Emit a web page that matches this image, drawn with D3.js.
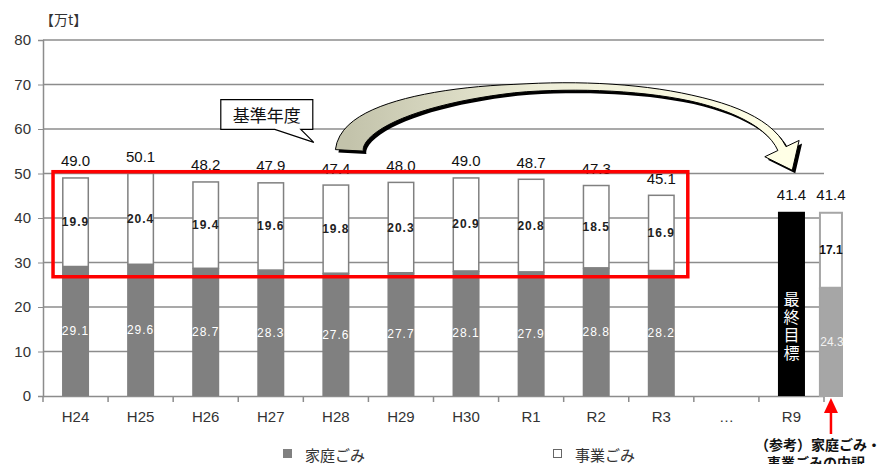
<!DOCTYPE html>
<html>
<head>
<meta charset="utf-8">
<script src="https://cdn.jsdelivr.net/npm/d3@7"></script>
<style>
  body { margin: 0; background: #fff; }
  svg { display: block; font-family: "Liberation Sans", Arial, sans-serif; }
  .jp { font-family: "Noto Sans CJK JP", sans-serif; }
</style>
</head>
<body>
<svg id="chart" width="884" height="464"></svg>
<script>
// years on the x axis
const categories = ["H24", "H25", "H26", "H27", "H28", "H29", "H30", "R1", "R2", "R3", "…", "R9"];
const years = categories.slice(0, 10);
// household waste / business waste (万t)
const household = [29.1, 29.6, 28.7, 28.3, 27.6, 27.7, 28.1, 27.9, 28.8, 28.2];
const business = [19.9, 20.4, 19.4, 19.6, 19.8, 20.3, 20.9, 20.8, 18.5, 16.9];
const totals = [49.0, 50.1, 48.2, 47.9, 47.4, 48.0, 49.0, 48.7, 47.3, 45.1];
// final target and its breakdown
const target = 41.4;
const refHousehold = 24.3;
const refBusiness = 17.1;
const yTicks = [0, 10, 20, 30, 40, 50, 60, 70, 80];

const svg = d3.select("#chart");
const plotLeft = 43, plotRight = 824, plotTop = 40, plotBottom = 396;

const x = d3.scaleBand().domain(categories).range([plotLeft, plotRight])
  .paddingInner(0.585).paddingOuter(0.2925);
const y = d3.scaleLinear().domain([0, 80]).range([plotBottom, plotTop]);
const bw = x.bandwidth();
const gap = x.step() - bw;

// gridlines
svg.append("g").selectAll("line").data(yTicks.slice(1)).join("line")
  .attr("x1", plotLeft).attr("x2", plotRight)
  .attr("y1", d => y(d)).attr("y2", d => y(d))
  .attr("stroke", "#8c8c8c").attr("stroke-width", 1.5);

// y axis
const yAxis = svg.append("g").attr("transform", `translate(${plotLeft},0)`)
  .call(d3.axisLeft(y).tickValues(yTicks).tickSize(5).tickPadding(7));
yAxis.select(".domain").attr("stroke", "#8c8c8c").attr("stroke-width", 1.5);
yAxis.selectAll(".tick line").attr("stroke", "#8c8c8c");
yAxis.selectAll("text").attr("font-size", 15).attr("fill", "#333")
  .attr("font-family", "Liberation Sans, Arial, sans-serif");

// x axis
const xAxis = svg.append("g").attr("transform", `translate(0,${plotBottom})`)
  .call(d3.axisBottom(x).tickSize(0).tickPadding(15));
xAxis.select(".domain").attr("stroke", "#8c8c8c").attr("stroke-width", 1.5);
xAxis.selectAll("text").attr("font-size", 15).attr("fill", "#333")
  .attr("font-family", "Liberation Sans, Arial, sans-serif");
const bounds = categories.map(c => x(c) - gap / 2).concat([plotRight]);
svg.append("g").selectAll("line").data(bounds).join("line")
  .attr("x1", d => d).attr("x2", d => d)
  .attr("y1", plotBottom).attr("y2", plotBottom + 6)
  .attr("stroke", "#8c8c8c").attr("stroke-width", 1.5);

// unit label
svg.append("text").attr("class", "jp").attr("x", 40).attr("y", 25)
  .attr("font-size", 14).attr("fill", "#333").text("【万t】");

// stacked bars
const bars = svg.append("g");
bars.selectAll(".hh").data(years).join("rect")
  .attr("x", d => x(d)).attr("width", bw)
  .attr("y", (d, i) => y(household[i]))
  .attr("height", (d, i) => y(0) - y(household[i]))
  .attr("fill", "#808080");
bars.selectAll(".bz").data(years).join("rect")
  .attr("x", d => x(d) + 0.75).attr("width", bw - 1.5)
  .attr("y", (d, i) => y(household[i] + business[i]))
  .attr("height", (d, i) => y(household[i]) - y(household[i] + business[i]))
  .attr("fill", "#fff").attr("stroke", "#808080").attr("stroke-width", 1.5);

// final target bar
const r9 = x("R9");
svg.append("rect").attr("x", r9).attr("width", bw)
  .attr("y", y(target)).attr("height", y(0) - y(target)).attr("fill", "#000");
svg.append("text").attr("class", "jp")
  .attr("x", r9 + bw / 2).attr("y", y(15.6))
  .attr("writing-mode", "vertical-rl").attr("text-anchor", "middle")
  .attr("letter-spacing", 2).attr("fill", "#fff").attr("font-size", 16)
  .text("最終目標");

// reference breakdown bar
const rx = r9 + x.step() * 0.63, rw = bw - 3;
svg.append("rect").attr("x", rx).attr("width", rw)
  .attr("y", y(refHousehold)).attr("height", y(0) - y(refHousehold)).attr("fill", "#a6a6a6");
svg.append("rect").attr("x", rx + 1).attr("width", rw - 2)
  .attr("y", y(target) + 1).attr("height", y(refHousehold) - y(target) - 1)
  .attr("fill", "#fff").attr("stroke", "#a6a6a6").attr("stroke-width", 2);
svg.append("rect").attr("x", rx + 1).attr("width", rw - 2)
  .attr("y", y(refHousehold)).attr("height", y(0) - y(refHousehold))
  .attr("fill", "none").attr("stroke", "#a6a6a6").attr("stroke-width", 2);

// value labels
const lbl = svg.append("g").attr("text-anchor", "middle").attr("dominant-baseline", "central");
lbl.selectAll(".hl").data(years).join("text")
  .attr("x", d => x(d) + bw / 2)
  .attr("y", (d, i) => y(household[i] / 2))
  .attr("font-size", 12).attr("letter-spacing", 1).attr("fill", "#fff")
  .text((d, i) => household[i].toFixed(1));
lbl.selectAll(".bl").data(years).join("text")
  .attr("x", d => x(d) + bw / 2)
  .attr("y", (d, i) => y(household[i] + business[i] / 2))
  .attr("font-size", 12).attr("letter-spacing", 1).attr("font-weight", "bold").attr("fill", "#222")
  .text((d, i) => business[i].toFixed(1));
lbl.selectAll(".tl").data(years).join("text")
  .attr("x", d => x(d) + bw / 2)
  .attr("y", (d, i) => y(totals[i]) - 17)
  .attr("font-size", 15).attr("fill", "#111")
  .text((d, i) => totals[i].toFixed(1));
lbl.append("text").attr("x", r9 + bw / 2).attr("y", y(target) - 17)
  .attr("font-size", 15).attr("fill", "#111").text(target.toFixed(1));
lbl.append("text").attr("x", rx + rw / 2).attr("y", y(target) - 17)
  .attr("font-size", 15).attr("fill", "#111").text(target.toFixed(1));
lbl.append("text").attr("x", rx + rw / 2).attr("y", y(refHousehold + refBusiness / 2))
  .attr("font-size", 12).attr("font-weight", "bold").attr("fill", "#111").text(refBusiness.toFixed(1));
lbl.append("text").attr("x", rx + rw / 2 + 1).attr("y", y(refHousehold / 2))
  .attr("font-size", 12).attr("fill", "#f2f2f2").text(refHousehold.toFixed(1));

// red arrow and note
const ax = rx + rw / 2;
svg.append("line").attr("x1", ax).attr("x2", ax).attr("y1", plotBottom + 16).attr("y2", plotBottom + 38)
  .attr("stroke", "#f00").attr("stroke-width", 2.5);
svg.append("path").attr("d", `M${ax},${plotBottom + 2}L${ax - 7},${plotBottom + 17}L${ax + 7},${plotBottom + 17}Z`)
  .attr("fill", "#f00");
svg.append("text").attr("class", "jp").attr("x", 818).attr("y", 450)
  .attr("text-anchor", "middle").attr("font-size", 14).attr("font-weight", "bold").attr("fill", "#111")
  .text("（参考）家庭ごみ・");
svg.append("text").attr("class", "jp").attr("x", 816).attr("y", 468)
  .attr("text-anchor", "middle").attr("font-size", 14).attr("font-weight", "bold").attr("fill", "#111")
  .text("事業ごみの内訳");

// red frame around base years
svg.append("rect")
  .attr("x", x("H24") - 9).attr("y", y(50.4))
  .attr("width", x("R3") + bw + 13 - (x("H24") - 9))
  .attr("height", y(26.8) - y(50.4))
  .attr("fill", "none").attr("stroke", "#f00").attr("stroke-width", 3.5);

// callout
const cx = x("H27") + bw / 2;
const cb = { l: cx - 50, r: cx + 42, t: y(66.6), b: y(59.9) };
svg.append("path")
  .attr("d", `M${cb.l},${cb.t}H${cb.r}V${cb.b}H${cb.r - 12}L${cb.r + 1},${y(57)}L${cb.r - 38},${cb.b}H${cb.l}Z`)
  .attr("fill", "#fff").attr("stroke", "#000").attr("stroke-width", 1.2);
svg.append("text").attr("class", "jp").attr("x", (cb.l + cb.r) / 2).attr("y", (cb.t + cb.b) / 2)
  .attr("text-anchor", "middle").attr("dominant-baseline", "central")
  .attr("font-size", 17).attr("fill", "#111").text("基準年度");

// big curved block arrow
const P0 = [x("H28") + bw, y(55.2)];
const P1 = [x("H28") + bw + 4, y(72)];
const P2 = [x("R9") - 40, y(76.4)];
const P3 = [x("R9") + 4, y(55.6)];
const width = d3.scaleLinear().domain([0, 0.45, 0.75, 1]).range([28, 8, 6, 9]);
function bez(t) {
  const u = 1 - t;
  return [0, 1].map(k => u*u*u*P0[k] + 3*u*u*t*P1[k] + 3*u*t*t*P2[k] + t*t*t*P3[k]);
}
function dbez(t) {
  const u = 1 - t;
  return [0, 1].map(k => 3*u*u*(P1[k]-P0[k]) + 6*u*t*(P2[k]-P1[k]) + 3*t*t*(P3[k]-P2[k]));
}
const sideA = [], sideB = [];
d3.range(0, 1.0001, 0.02).forEach(t => {
  const p = bez(t), d = dbez(t), len = Math.hypot(d[0], d[1]);
  const n = [-d[1] / len, d[0] / len], w = width(t) / 2;
  sideA.push([p[0] + n[0] * w, p[1] + n[1] * w]);
  sideB.push([p[0] - n[0] * w, p[1] - n[1] * w]);
});
const pe = bez(1), de = dbez(1), le = Math.hypot(de[0], de[1]);
const dir = [de[0] / le, de[1] / le], nor = [-dir[1], dir[0]];
const head = [
  [pe[0] + nor[0] * 19, pe[1] + nor[1] * 19],
  [pe[0] + dir[0] * 24, pe[1] + dir[1] * 24],
  [pe[0] - nor[0] * 19, pe[1] - nor[1] * 19]
];
const outline = sideA.concat(head).concat(sideB.slice().reverse());
const line = d3.line().curve(d3.curveLinearClosed);
const defs = svg.append("defs");
const grad = defs.append("linearGradient").attr("id", "arrowFill")
  .attr("gradientUnits", "userSpaceOnUse")
  .attr("x1", P0[0]).attr("x2", P3[0]).attr("y1", 0).attr("y2", 0);
grad.append("stop").attr("offset", 0).attr("stop-color", "#c3c3ab");
grad.append("stop").attr("offset", 0.45).attr("stop-color", "#eeeed8");
grad.append("stop").attr("offset", 1).attr("stop-color", "#ffffe6");
svg.append("path").attr("d", line(outline)).attr("transform", "translate(3,3)").attr("fill", "#000");
svg.append("path").attr("d", line(outline)).attr("fill", "url(#arrowFill)")
  .attr("stroke", "#000").attr("stroke-width", 1);

// legend
const lg = svg.append("g").attr("class", "jp");
lg.append("rect").attr("x", 283).attr("y", 449).attr("width", 9).attr("height", 9).attr("fill", "#808080");
lg.append("text").attr("x", 305).attr("y", 454).attr("dominant-baseline", "central")
  .attr("font-size", 15).attr("fill", "#333").text("家庭ごみ");
lg.append("rect").attr("x", 553.5).attr("y", 449.5).attr("width", 8).attr("height", 8)
  .attr("fill", "#fff").attr("stroke", "#666").attr("stroke-width", 1);
lg.append("text").attr("x", 575).attr("y", 454).attr("dominant-baseline", "central")
  .attr("font-size", 15).attr("fill", "#333").text("事業ごみ");
</script>
</body>
</html>
